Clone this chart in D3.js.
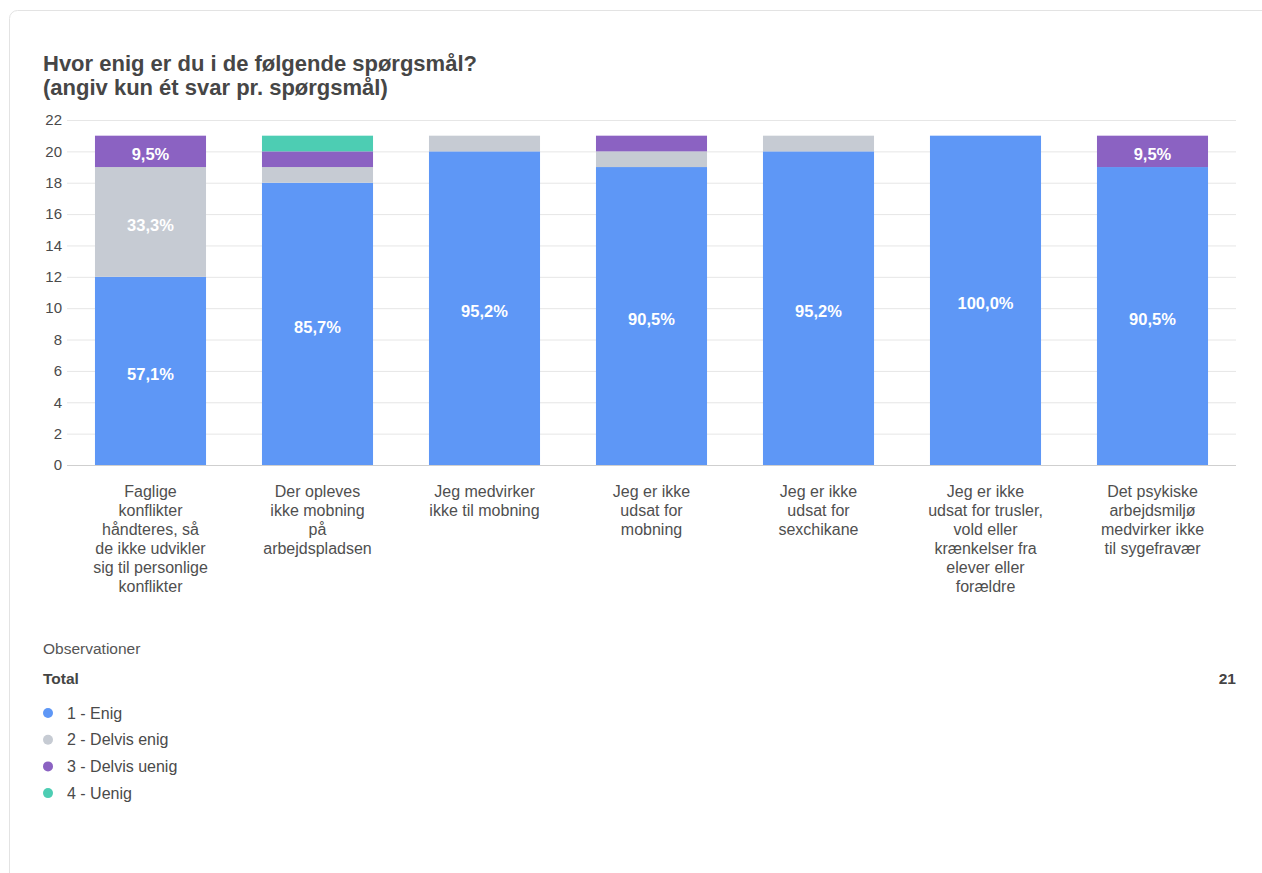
<!DOCTYPE html>
<html>
<head>
<meta charset="utf-8">
<script src="https://cdn.jsdelivr.net/npm/d3@7"></script>
<style>
  html, body { margin: 0; padding: 0; background: #fff; }
  svg { display: block; font-family: "Liberation Sans", Arial, Helvetica, sans-serif; }
</style>
</head>
<body>
<svg id="chart" width="1262" height="873"></svg>
<script>
// ---- Data ----
const categories = [
  "Faglige\nkonflikter\nhåndteres, så\nde ikke udvikler\nsig til personlige\nkonflikter",
  "Der opleves\nikke mobning\npå\narbejdspladsen",
  "Jeg medvirker\nikke til mobning",
  "Jeg er ikke\nudsat for\nmobning",
  "Jeg er ikke\nudsat for\nsexchikane",
  "Jeg er ikke\nudsat for trusler,\nvold eller\nkrænkelser fra\nelever eller\nforældre",
  "Det psykiske\narbejdsmiljø\nmedvirker ikke\ntil sygefravær"
];
const seriesNames = ["1 - Enig", "2 - Delvis enig", "3 - Delvis uenig", "4 - Uenig"];
const enig        = [12, 18, 20, 19, 20, 21, 19];
const delvisEnig  = [7, 1, 1, 1, 1, 0, 0];
const delvisUenig = [2, 1, 0, 1, 0, 0, 2];
const uenig       = [0, 1, 0, 0, 0, 0, 0];
const yTicks = [0, 2, 4, 6, 8, 10, 12, 14, 16, 18, 20, 22];
const totalObservations = 21;
const colors = ["#5e97f6", "#c6cbd3", "#8b62c2", "#4dcdb3"];

const seriesValues = [enig, delvisEnig, delvisUenig, uenig];
const rows = categories.map((c, i) => {
  const r = { cat: c };
  seriesNames.forEach((s, k) => r[s] = seriesValues[k][i]);
  return r;
});

// ---- Layout ----
const svg = d3.select("#chart");
const FONT = '"Liberation Sans", Arial, Helvetica, sans-serif';
const m = { left: 67, right: 1236, top: 120, bottom: 465 };

// card
svg.append("rect")
  .attr("x", 9.5).attr("y", 10.5).attr("width", 1300).attr("height", 900)
  .attr("rx", 8).attr("fill", "#fff").attr("stroke", "#e3e3e3");

// title
const title = svg.append("text")
  .attr("fill", "#464646").attr("font-weight", "bold").attr("font-size", 22).attr("font-family", FONT);
title.append("tspan").attr("x", 43).attr("y", 71).text("Hvor enig er du i de følgende spørgsmål?");
title.append("tspan").attr("x", 43).attr("y", 95).text("(angiv kun ét svar pr. spørgsmål)");

const x = d3.scaleBand().domain(categories).range([m.left, m.right])
  .paddingInner(0.335).paddingOuter(0.1675);
const y = d3.scaleLinear().domain([0, 22]).range([m.bottom, m.top]);

// grid + y axis
const yAxis = svg.append("g").attr("transform", `translate(${m.left},0)`)
  .call(d3.axisLeft(y).tickValues(yTicks).tickSize(-(m.right - m.left)).tickPadding(5).tickFormat(d3.format("d")));
yAxis.select(".domain").remove();
yAxis.selectAll(".tick line").attr("stroke", d => d === 0 ? "#cfcfcf" : "#e6e6e6");
yAxis.selectAll(".tick text").attr("fill", "#4a4a4a").attr("font-size", 15).attr("font-family", FONT);

// stacked bars
const stack = d3.stack().keys(seriesNames)(rows);
const fmt = v => d3.format(".1f")(v).replace(".", ",") + "%";
const layers = svg.append("g").selectAll("g").data(stack).join("g")
  .attr("fill", (d, i) => colors[i]);
layers.selectAll("rect").data(d => d).join("rect")
  .attr("x", d => x(d.data.cat))
  .attr("width", x.bandwidth())
  .attr("y", d => y(d[1]))
  .attr("height", d => y(d[0]) - y(d[1]));

// value labels
stack.forEach((layer, k) => {
  svg.append("g").selectAll("text").data(layer.filter(d => d[1] - d[0] >= 2)).join("text")
    .attr("x", d => x(d.data.cat) + x.bandwidth() / 2)
    .attr("y", d => y((d[0] + d[1]) / 2))
    .attr("dy", "0.55em")
    .attr("text-anchor", "middle")
    .attr("fill", "#ffffff")
    .attr("font-weight", "bold")
    .attr("font-size", 16.5)
    .attr("font-family", FONT)
    .text(d => fmt((d[1] - d[0]) / totalObservations * 100));
});

// x labels
const xl = svg.append("g");
categories.forEach(c => {
  const t = xl.append("text").attr("text-anchor", "middle")
    .attr("fill", "#4f4f4f").attr("font-size", 16).attr("font-family", FONT);
  c.split("\n").forEach((line, i) => {
    t.append("tspan").attr("x", x(c) + x.bandwidth() / 2).attr("y", 497 + i * 19).text(line);
  });
});

// legend / observations
svg.append("text").attr("x", 43).attr("y", 654).attr("fill", "#555")
  .attr("font-size", 15.5).attr("font-family", FONT).text("Observationer");
svg.append("text").attr("x", 43).attr("y", 684).attr("fill", "#444").attr("font-weight", "bold")
  .attr("font-size", 15.5).attr("font-family", FONT).text("Total");
svg.append("text").attr("x", 1236).attr("y", 684).attr("text-anchor", "end").attr("fill", "#444")
  .attr("font-weight", "bold").attr("font-size", 15.5).attr("font-family", FONT).text(totalObservations);

const leg = svg.append("g").selectAll("g").data(seriesNames).join("g")
  .attr("transform", (d, i) => `translate(0,${713 + i * 26.7})`);
leg.append("circle").attr("cx", 48).attr("cy", 0).attr("r", 5).attr("fill", (d, i) => colors[i]);
leg.append("text").attr("x", 67).attr("y", 0).attr("dy", "0.35em").attr("fill", "#4a4a4a")
  .attr("font-size", 16).attr("font-family", FONT).text(d => d);
</script>
</body>
</html>
